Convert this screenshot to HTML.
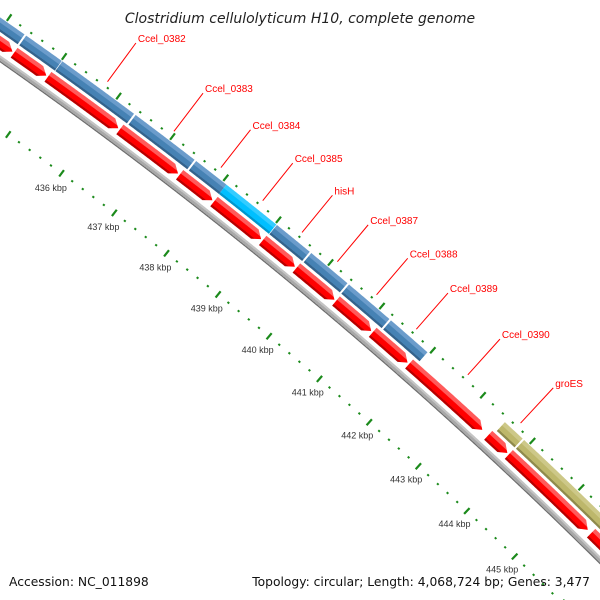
<!DOCTYPE html>
<html><head><meta charset="utf-8"><style>
html,body{margin:0;padding:0;background:#fff}
svg{display:block}
text{font-family:"Liberation Sans",sans-serif}
</style></head><body>
<svg id="map" width="600" height="600" viewBox="0 0 600 600" xmlns="http://www.w3.org/2000/svg">
<defs>
<clipPath id="vp"><rect x="0" y="0" width="600" height="600"/></clipPath>
</defs>
<rect x="0" y="0" width="600" height="600" fill="#fff"/>
<g id="layer" clip-path="url(#vp)"></g>
<text x="300" y="23" text-anchor="middle" font-size="14" font-style="italic" fill="#222" style="font-family:'DejaVu Sans',sans-serif">Clostridium cellulolyticum H10, complete genome</text>
<text x="9" y="586" font-size="12.3" fill="#111" style="font-family:'DejaVu Sans',sans-serif">Accession: NC_011898</text>
<text x="590" y="586" text-anchor="end" font-size="12.3" fill="#111" style="font-family:'DejaVu Sans',sans-serif">Topology: circular; Length: 4,068,724 bp; Genes: 3,477</text>
</svg>
<script>
// ---- data (kbp) ----
const forwardStarts = [433.0, 434.36, 435.02, 436.37, 437.50, 438.07, 439.03, 439.69, 440.42, 441.24, 443.51, 443.90];
const forwardEnds   = [434.33, 435.01, 436.34, 437.47, 438.07, 439.02, 439.66, 440.39, 441.21, 441.96, 443.87, 446.0];
const forwardKinds  = ["blue","blue","blue","blue","blue","cyan","blue","blue","blue","blue","olive","olive"];
const reverseStarts = [433.0, 434.36, 434.98, 436.31, 437.43, 438.08, 439.01, 439.66, 440.43, 441.15, 441.87, 443.46, 443.88, 445.58];
const reverseEnds   = [434.33, 434.95, 436.28, 437.40, 438.05, 438.98, 439.63, 440.40, 441.12, 441.84, 443.34, 443.85, 445.51, 446.5];
const labelNames = ["Ccel_0382","Ccel_0383","Ccel_0384","Ccel_0385","hisH","Ccel_0387","Ccel_0388","Ccel_0389","Ccel_0390","groES"];
const labelPos   = [435.74, 436.97, 437.85, 438.64, 439.39, 440.07, 440.83, 441.61, 442.63, 443.69];
const tickMin = 433.0;
const tickMax = 446.4;
const majorTickLabels = [436, 437, 438, 439, 440, 441, 442, 443, 444, 445, 446];

// ---- geometry ----
const CX = -2643, CY = 3831, R0 = 4606;
const A0 = 53.52, KB0 = 436, DEG_PER_KB = 0.831;
function ang(kb){ return A0 - (kb - KB0) * DEG_PER_KB; }
function pt(kb, dr){ const a = ang(kb) * Math.PI / 180, r = R0 + dr; return [CX + r * Math.cos(a), CY - r * Math.sin(a)]; }
function arcPts(k1, k2, dr){ const n = Math.max(2, Math.ceil(Math.abs(k2 - k1) / 0.02)); const p = []; for (let i = 0; i <= n; i++) p.push(pt(k1 + (k2 - k1) * i / n, dr)); return p; }
const NS = "http://www.w3.org/2000/svg";
const layer = document.getElementById("layer");
const defs = document.querySelector("defs");
function mk(tag, attrs){ const e = document.createElementNS(NS, tag); for (const k in attrs) e.setAttribute(k, attrs[k]); return e; }
function ptsStr(p){ return p.map(q => q[0].toFixed(2) + "," + q[1].toFixed(2)).join(" "); }

// gradients
const GR = 4720;
function grad(id, r1, r2, light, base, dark){
  const g = mk("radialGradient", {id: id, gradientUnits: "userSpaceOnUse", cx: CX, cy: CY, r: GR, fx: CX, fy: CY});
  const o = dr => ((R0 + dr) / GR).toFixed(6);
  const h = r2 - r1;
  [[o(r1), dark], [o(r1 + h * 0.18), dark], [o(r1 + h * 0.2), base], [o(r1 + h * 0.62), base], [o(r1 + h * 0.66), light], [o(r2), light]]
    .forEach(s => g.appendChild(mk("stop", {offset: s[0], "stop-color": s[1]})));
  defs.appendChild(g);
}
const FR1 = 22, FR2 = 34, RR1 = 7, RR2 = 19;
grad("g-blue", FR1, FR2, "#6b9ccb", "#4682b4", "#34638c");
grad("g-cyan", FR1, FR2, "#33ccff", "#00bfff", "#0096cc");
grad("g-olive", FR1, FR2, "#cdc888", "#bdb76b", "#8f8a4c");
grad("g-red", RR1, RR2, "#ff5a5a", "#ff0000", "#b80000");
grad("g-gray", -3, 3, "#c4c4c4", "#a8a8a8", "#6e6e6e");

// backbone
{
  const p = arcPts(tickMin, tickMax, 3).concat(arcPts(tickMax, tickMin, -3));
  const e = mk("polygon", {points: ptsStr(p), fill: "url(#g-gray)"});
  
  
  layer.appendChild(e);
}

// forward features
for (let i = 0; i < forwardStarts.length; i++){
  const p = arcPts(forwardStarts[i], forwardEnds[i], FR2).concat(arcPts(forwardEnds[i], forwardStarts[i], FR1));
  const e = mk("polygon", {points: ptsStr(p), fill: "url(#g-" + forwardKinds[i] + ")"});
  
  
  layer.appendChild(e);
}

// reverse features (arrows)
for (let i = 0; i < reverseStarts.length; i++){
  const s = reverseStarts[i], en = reverseEnds[i];
  const head = Math.min(0.12, (en - s) * 0.5);
  const p = arcPts(s, en - head, RR2).concat([pt(en, (RR1 + RR2) / 2)]).concat(arcPts(en - head, s, RR1));
  const e = mk("polygon", {points: ptsStr(p), fill: "url(#g-red)"});
  
  
  layer.appendChild(e);
}

// ticks
function tickRow(center, name){
  const nSteps = Math.round((tickMax - tickMin) / 0.2);
  for (let i = 0; i <= nSteps; i++){
    const kb = tickMin + i * 0.2;
    const major = Math.abs(kb - Math.round(kb)) < 1e-6;
    const len = major ? 4 : 1;
    const a = pt(kb, center - len), b = pt(kb, center + len);
    const e = mk("line", {x1: a[0], y1: a[1], x2: b[0], y2: b[1], stroke: "#1b8a1b", "stroke-width": 2.2});
    
    
    layer.appendChild(e);
  }
}
tickRow(39, 'outer');
tickRow(-57, 'inner');
majorTickLabels.forEach(k => {
  const p = pt(k, -75);
  const t = mk("text", {x: p[0].toFixed(1), y: (p[1] + 3).toFixed(1), "text-anchor": "middle", "font-size": "9", fill: "#333"});
  t.textContent = k + " kbp";
  
  
  layer.appendChild(t);
});

// feature labels
labelNames.forEach((n, i) => {
  const a = pt(labelPos[i], 44), b = pt(labelPos[i], 92);
  const l = mk("line", {x1: a[0], y1: a[1], x2: b[0], y2: b[1], stroke: "#ff0000", "stroke-width": 1});
  
  
  layer.appendChild(l);
  const t = mk("text", {x: (b[0] + 2).toFixed(1), y: (b[1] - 1).toFixed(1), "font-size": "10", fill: "#ff0000"});
  t.textContent = n;
  
  
  layer.appendChild(t);
});
</script>
</body></html>
